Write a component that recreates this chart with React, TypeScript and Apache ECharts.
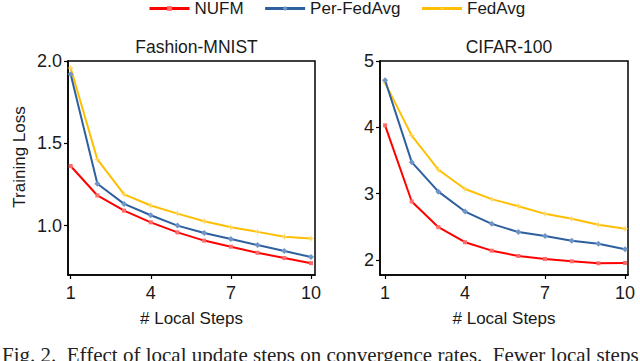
import React, { useEffect, useRef } from "react";
import * as echarts from "echarts";

const steps = [1, 2, 3, 4, 5, 6, 7, 8, 9, 10];
const xTicks = [1, 4, 7, 10];

const fmnistNUFM = [1.362, 1.183, 1.091, 1.02, 0.959, 0.909, 0.872, 0.835, 0.803, 0.772];
const fmnistPer = [1.92, 1.254, 1.132, 1.063, 1.0, 0.955, 0.919, 0.882, 0.846, 0.809];
const fmnistFed = [1.957, 1.402, 1.19, 1.122, 1.073, 1.027, 0.99, 0.962, 0.933, 0.921];
const fmnistYTicks = [1.0, 1.5, 2.0];

const cifarNUFM = [4.03, 2.882, 2.494, 2.267, 2.14, 2.06, 2.015, 1.98, 1.95, 1.955];
const cifarPer = [4.71, 3.475, 3.03, 2.73, 2.544, 2.42, 2.36, 2.29, 2.245, 2.16];
const cifarFed = [4.67, 3.875, 3.36, 3.07, 2.917, 2.81, 2.695, 2.62, 2.53, 2.47];
const cifarYTicks = [2, 3, 4, 5];

const seriesNames = ["NUFM", "Per-FedAvg", "FedAvg"];
const titles = ["Fashion-MNIST", "CIFAR-100"];
const xName = "# Local Steps";
const yName = "Training Loss";
const caption = "Fig. 2.  Effect of local update steps on convergence rates.  Fewer local steps";

const COLORS = ["#ff0000", "#2e5f9e", "#ffbf00"];
const MARK = ["#ff6a6a", "#7096c8", "#ffd65c"];
const SYMBOLS = ["rect", "diamond", "path://M0,-10 L2.5,-2.5 L10,0 L2.5,2.5 L0,10 L-2.5,2.5 L-10,0 L-2.5,-2.5 Z"];
const SIZES = [4, 6, 7];

const FONT = "'Liberation Sans', Arial, sans-serif";

export default function App() {
  const ref = useRef<HTMLDivElement>(null);
  useEffect(() => {
    document.body.style.margin = "0";
    const chart = echarts.init(ref.current!, undefined, { renderer: "svg" });
    const grids = [
      { left: 68, top: 61, width: 247, height: 214 },
      { left: 380, top: 61, width: 248, height: 214 },
    ];
    const xRanges = [
      [0.9, 10.15],
      [0.81, 10.11],
    ];
    const yRanges = [
      [0.7, 2.0],
      [1.773, 5.0],
    ];
    const yTicks = [fmnistYTicks, cifarYTicks];
    const data = [
      [fmnistNUFM, fmnistPer, fmnistFed],
      [cifarNUFM, cifarPer, cifarFed],
    ];

    const xAxis = grids.map((_, i) => ({
      type: "value",
      gridIndex: i,
      min: xRanges[i][0],
      max: xRanges[i][1],
      name: xName,
      nameLocation: "middle",
      nameGap: 35,
      nameTextStyle: { fontFamily: FONT, fontSize: 17, color: "#1a1a1a" },
      splitLine: { show: false },
      axisLine: { show: true, lineStyle: { color: "#000", width: 1.5 } },
      axisTick: { show: true, inside: false, length: 4, customValues: xTicks, lineStyle: { color: "#000", width: 1.2 } },
      axisLabel: {
        customValues: xTicks,
        margin: 9,
        fontFamily: FONT,
        fontSize: 18,
        color: "#1a1a1a",
        formatter: (v: number) => String(Math.round(v)),
      },
    }));
    const yAxis = grids.map((_, i) => ({
      type: "value",
      gridIndex: i,
      min: yRanges[i][0],
      max: yRanges[i][1],
      splitLine: { show: false },
      axisLine: { show: true, lineStyle: { color: "#000", width: 1.5 } },
      axisTick: { show: true, inside: false, length: 4, customValues: yTicks[i], lineStyle: { color: "#000", width: 1.2 } },
      axisLabel: {
        customValues: yTicks[i],
        margin: 6,
        fontFamily: FONT,
        fontSize: 18,
        color: "#1a1a1a",
        formatter: (v: number) => (i === 0 ? v.toFixed(1) : String(Math.round(v))),
      },
    }));

    const series: any[] = [];
    for (let g = 0; g < 2; g++) {
      for (let s = 0; s < 3; s++) {
        series.push({
          name: seriesNames[s],
          type: "line",
          xAxisIndex: g,
          yAxisIndex: g,
          data: steps.map((x, k) => [x, data[g][s][k]]),
          symbol: SYMBOLS[s],
          symbolSize: SIZES[s],
          showSymbol: true,
          lineStyle: { color: COLORS[s], width: 2 },
          itemStyle: { color: MARK[s] },
          z: 3 - s + 2,
        });
      }
    }

    chart.setOption({
      animation: false,
      backgroundColor: "#fff",
      grid: grids.map((g) => ({ ...g, show: true, borderColor: "#000", borderWidth: 1.5, backgroundColor: "transparent" })),
      xAxis,
      yAxis,
      legend: {
        left: 143,
        top: -5,
        itemWidth: 40,
        itemHeight: 6,
        itemGap: 20,
        data: seriesNames.map((n, s) => ({
          name: n,
          itemStyle: { color: MARK[s] },
          lineStyle: { color: COLORS[s], width: 3 },
        })),
        textStyle: { fontFamily: FONT, fontSize: 17, color: "#1a1a1a" },
      },
      title: titles.map((t, i) => ({
        text: t,
        left: grids[i].left + grids[i].width / 2,
        textAlign: "center",
        top: 33,
        textStyle: { fontFamily: FONT, fontSize: 17.5, fontWeight: "normal", color: "#1a1a1a" },
      })),
      graphic: [
        {
          type: "text",
          x: 19,
          y: 157,
          rotation: Math.PI / 2,
          style: {
            text: yName,
            fontFamily: FONT,
            fontSize: 17,
            fill: "#1a1a1a",
            align: "center",
            verticalAlign: "middle",
          },
        },
        {
          type: "text",
          x: 2,
          y: 344,
          style: {
            text: caption,
            fontFamily: "'Liberation Serif', 'Times New Roman', serif",
            fontSize: 21,
            fill: "#222",
            align: "left",
            verticalAlign: "top",
          },
        },
      ],
      series,
    });
    return () => chart.dispose();
  }, []);
  return <div ref={ref} style={{ position: "absolute", left: 0, top: 0, width: 640, height: 361 }} />;
}
